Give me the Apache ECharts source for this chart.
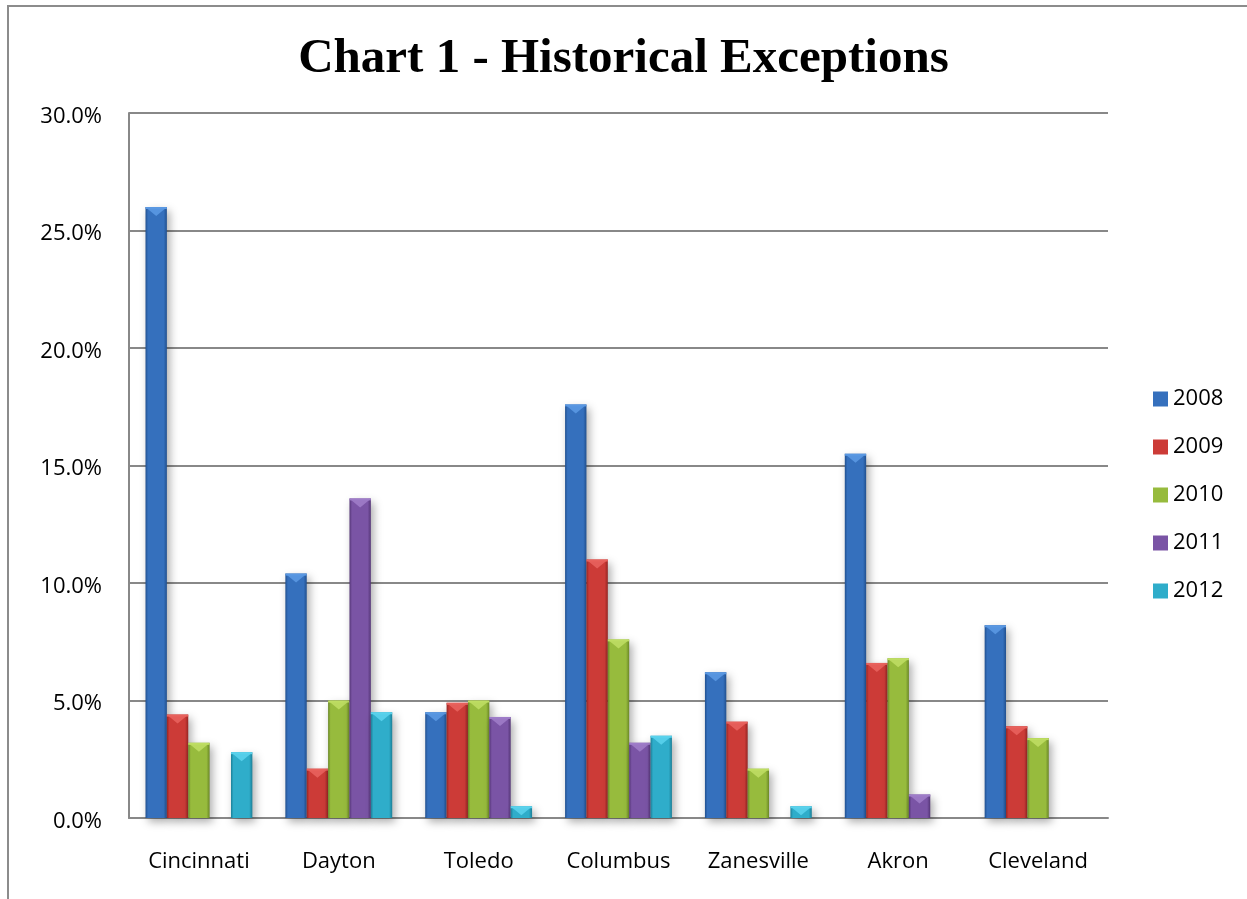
<!DOCTYPE html>
<html>
<head>
<meta charset="utf-8">
<title>Chart 1 - Historical Exceptions</title>
<script src="https://cdn.jsdelivr.net/npm/echarts@6/dist/echarts.min.js"></script>
<style>
  html, body { margin: 0; padding: 0; background: #ffffff; }
  #chart { width: 1247px; height: 899px; }
</style>
</head>
<body>
<div id="chart"></div>
<script>
// Cities along the category axis
const cities = ['Cincinnati', 'Dayton', 'Toledo', 'Columbus', 'Zanesville', 'Akron', 'Cleveland'];

// Exception rate (%) per city, one array per year
const years = ['2008', '2009', '2010', '2011', '2012'];
const y2008 = [26.0, 10.4, 4.5, 17.6, 6.2, 15.5, 8.2];
const y2009 = [4.4, 2.1, 4.9, 11.0, 4.1, 6.6, 3.9];
const y2010 = [3.2, 5.0, 5.0, 7.6, 2.1, 6.8, 3.4];
const y2011 = [0, 13.6, 4.3, 3.2, 0, 1.0, 0];
const y2012 = [2.8, 4.5, 0.5, 3.5, 0.5, 0, 0];

// Value-axis ticks
const yTicks = [0, 5, 10, 15, 20, 25, 30];

const yearValues = [y2008, y2009, y2010, y2011, y2012];

// Bevelled bar palette: [main, dark edge, light highlight]
const palette = [
  ['#3570BD', '#21508F', '#5A98E2'],
  ['#CC3B37', '#952523', '#E8625D'],
  ['#97BB3D', '#6A8726', '#BEDD63'],
  ['#7A54A5', '#553677', '#9E7CC8'],
  ['#2FADCA', '#1C7F97', '#5AD2EC']
];

const CATEGORY_GAP = 0.236;

function makeRenderItem(seriesIdx) {
  const nSeries = years.length;
  return function (params, api) {
    const val = api.value(1);
    if (!val) return null;
    const cat = api.value(0);
    const catW = api.size([1, 0])[0];
    const barW = catW * (1 - CATEGORY_GAP) / nSeries;
    const top = api.coord([cat, val]);
    const base = api.coord([cat, 0]);
    const x = top[0] - (nSeries / 2) * barW + seriesIdx * barW;
    const y = top[1];
    const h = base[1] - top[1];
    const c = palette[seriesIdx];
    const triH = Math.min(h, barW * 0.42);
    return {
      type: 'group',
      children: [
        {
          type: 'rect',
          shape: { x: x, y: y, width: barW, height: h },
          style: {
            fill: new echarts.graphic.LinearGradient(0, 0, 1, 0, [
              { offset: 0, color: c[1] },
              { offset: 0.12, color: c[0] },
              { offset: 0.45, color: c[0] },
              { offset: 0.85, color: c[0] },
              { offset: 1, color: c[1] }
            ]),
            shadowBlur: 8,
            shadowOffsetX: 3,
            shadowOffsetY: 4,
            shadowColor: 'rgba(0,0,0,0.32)'
          }
        },
        {
          type: 'polygon',
          shape: {
            points: [
              [x + 1, y + 1],
              [x + barW - 1, y + 1],
              [x + barW / 2, y + triH]
            ]
          },
          style: { fill: c[2], opacity: 0.9 }
        },
        {
          type: 'rect',
          shape: { x: x, y: y, width: barW, height: Math.min(h, 2) },
          style: { fill: c[2] }
        }
      ]
    };
  };
}

const series = years.map((yr, i) => ({
  name: yr,
  type: 'custom',
  renderItem: makeRenderItem(i),
  itemStyle: { color: palette[i][0] },
  encode: { x: 0, y: 1 },
  data: yearValues[i].map((v, k) => [k, v]),
  clip: false
}));

const chart = echarts.init(document.getElementById('chart'), null, { renderer: 'canvas' });

chart.setOption({
  animation: false,
  backgroundColor: '#ffffff',
  title: {
    text: 'Chart 1 - Historical Exceptions',
    left: 'center',
    top: 30,
    textStyle: {
      fontFamily: '"Liberation Serif", "Times New Roman", serif',
      fontWeight: 'bold',
      fontSize: 49,
      color: '#000000'
    }
  },
  legend: {
    orient: 'vertical',
    left: 1148,
    top: 383,
    itemWidth: 15,
    itemHeight: 15,
    itemGap: 26,
    icon: 'rect',
    textStyle: {
      fontFamily: '"Open Sans", sans-serif',
      fontSize: 22,
      color: '#000000'
    },
    data: years
  },
  grid: {
    left: 129,
    right: 139,
    top: 113,
    bottom: 81,
    containLabel: false
  },
  xAxis: {
    type: 'category',
    data: cities,
    axisLine: { show: true, lineStyle: { color: '#888888', width: 2 } },
    axisTick: { show: false },
    axisLabel: {
      margin: 33,
      fontFamily: '"Open Sans", sans-serif',
      fontSize: 22,
      color: '#000000'
    },
    splitLine: { show: false }
  },
  yAxis: {
    type: 'value',
    min: yTicks[0],
    max: yTicks[yTicks.length - 1],
    interval: yTicks[1] - yTicks[0],
    axisLine: { show: true, lineStyle: { color: '#888888', width: 2 } },
    axisTick: { show: false },
    axisLabel: {
      margin: 27,
      color: '#000000',
      formatter: v => '{t|' + v.toFixed(1) + '%}',
      rich: {
        t: {
          fontFamily: '"Open Sans", sans-serif',
          fontSize: 22,
          color: '#000000',
          padding: [7, 0, 0, 0]
        }
      }
    },
    splitLine: { show: true, lineStyle: { color: '#888888', width: 2 } }
  },
  graphic: [
    {
      type: 'polyline',
      shape: { points: [[8, 899], [8, 6], [1247, 6]] },
      style: { stroke: '#8c8c8c', lineWidth: 2, fill: null }
    }
  ],
  series: series
});
</script>
</body>
</html>
